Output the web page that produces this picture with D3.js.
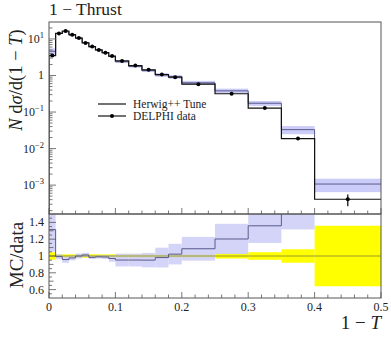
<html>
<head>
<script src="https://cdn.jsdelivr.net/npm/d3@7"></script>
<style>
  body { margin: 0; background: #fff; }
  text { font-family: "Liberation Serif", serif; fill: #222; }
</style>
</head>
<body>
<script>
// bin edges in 1-T
var edges = [0, 0.01, 0.02, 0.03, 0.04, 0.05, 0.06, 0.07, 0.08, 0.09, 0.10,
             0.12, 0.14, 0.16, 0.18, 0.20, 0.25, 0.30, 0.35, 0.40, 0.50];
// DELPHI data and relative errors
var dataVals = [3.5, 14.2, 16.5, 13.1, 10.6, 7.8, 6.2, 5.0, 4.2, 3.4,
                2.5, 1.87, 1.43, 1.06, 0.9, 0.58, 0.316, 0.128, 0.0188, 0.00041];
var dataErr = [0.045, 0.02, 0.02, 0.02, 0.02, 0.02, 0.02, 0.02, 0.02, 0.02,
               0.02, 0.02, 0.02, 0.02, 0.02, 0.02, 0.03, 0.045, 0.08, 0.36];
// Herwig++ tune and relative errors
var mcVals = [4.6, 14.1, 15.8, 12.8, 10.6, 7.9, 6.1, 4.95, 4.15, 3.3,
              2.38, 1.78, 1.36, 1.04, 0.92, 0.63, 0.38, 0.174, 0.033, 0.00107];
var mcErr = [0.2, 0.03, 0.04, 0.03, 0.03, 0.025, 0.02, 0.02, 0.025, 0.04,
             0.08, 0.08, 0.09, 0.12, 0.12, 0.13, 0.15, 0.15, 0.25, 0.4];
var xTicks = [0, 0.1, 0.2, 0.3, 0.4, 0.5];
var yTicks = [10, 1, 0.1, 0.01, 0.001];
var rTicks = [0.6, 0.8, 1, 1.2, 1.4];

var w = 391, h = 341;
var L = 49, R = 381, T = 22, M = 214, B = 298;
var frameCol = "#555", bandCol = "#ccccf8", mcCol = "#5a5a8c";

var svg = d3.select("body").append("svg").attr("width", w).attr("height", h);

var x = d3.scaleLinear().domain([0, 0.5]).range([L, R]);
var y = d3.scaleLog().domain([1.62e-4, 29.1]).range([M, T]);
var yr = d3.scaleLinear().domain([0.5, 1.5]).range([B, M]);

var defs = svg.append("defs");
defs.append("clipPath").attr("id", "cmain").append("rect")
  .attr("x", L).attr("y", T).attr("width", R - L).attr("height", M - T);
defs.append("clipPath").attr("id", "crat").append("rect")
  .attr("x", L).attr("y", M).attr("width", R - L).attr("height", B - M);

var bins = dataVals.map(function(d, i) {
  return {lo: edges[i], hi: edges[i + 1], d: d, de: dataErr[i], m: mcVals[i], me: mcErr[i]};
});

function stepLine(sc, f) {
  var pts = [];
  bins.forEach(function(b) { pts.push([x(b.lo), sc(f(b))]); pts.push([x(b.hi), sc(f(b))]); });
  return d3.line()(pts);
}

// ---- main panel
var gm = svg.append("g").attr("clip-path", "url(#cmain)");
gm.selectAll(".mcband").data(bins).enter().append("rect")
  .attr("x", function(b) { return x(b.lo); })
  .attr("width", function(b) { return x(b.hi) - x(b.lo); })
  .attr("y", function(b) { return y(b.m * (1 + b.me)); })
  .attr("height", function(b) { return y(b.m * (1 - b.me)) - y(b.m * (1 + b.me)); })
  .attr("fill", bandCol);
gm.append("path").attr("d", stepLine(y, function(b) { return b.m; }))
  .attr("fill", "none").attr("stroke", mcCol).attr("stroke-width", 1);
var dpath = [[x(0), y(1.62e-4)]];
bins.forEach(function(b) { dpath.push([x(b.lo), y(b.d)]); dpath.push([x(b.hi), y(b.d)]); });
gm.append("path").attr("d", d3.line()(dpath))
  .attr("fill", "none").attr("stroke", "#111").attr("stroke-width", 1.2);
gm.selectAll(".err").data(bins).enter().append("line")
  .attr("x1", function(b) { return x((b.lo + b.hi) / 2); })
  .attr("x2", function(b) { return x((b.lo + b.hi) / 2); })
  .attr("y1", function(b) { return y(b.d * (1 + b.de)); })
  .attr("y2", function(b) { return y(b.d * (1 - b.de)); })
  .attr("stroke", "#000").attr("stroke-width", 1.2);
gm.selectAll(".pt").data(bins).enter().append("circle")
  .attr("cx", function(b) { return x((b.lo + b.hi) / 2); })
  .attr("cy", function(b) { return y(b.d); })
  .attr("r", 2).attr("fill", "#000");

// ---- ratio panel
var gr = svg.append("g").attr("clip-path", "url(#crat)");
gr.selectAll(".dband").data(bins).enter().append("rect")
  .attr("x", function(b) { return x(b.lo); })
  .attr("width", function(b) { return x(b.hi) - x(b.lo); })
  .attr("y", function(b) { return yr(1 + b.de); })
  .attr("height", function(b) { return yr(1 - b.de) - yr(1 + b.de); })
  .attr("fill", "#ffff00");
gr.selectAll(".rband").data(bins).enter().append("rect")
  .attr("x", function(b) { return x(b.lo); })
  .attr("width", function(b) { return x(b.hi) - x(b.lo); })
  .attr("y", function(b) { return yr(b.m / b.d * (1 + b.me)); })
  .attr("height", function(b) { return yr(b.m / b.d * (1 - b.me)) - yr(b.m / b.d * (1 + b.me)); })
  .attr("fill", bandCol).attr("fill-opacity", 0.85);
gr.append("line").attr("x1", L).attr("x2", R).attr("y1", yr(1)).attr("y2", yr(1))
  .attr("stroke", "#9a9a30").attr("stroke-width", 1);
gr.append("path").attr("d", stepLine(yr, function(b) { return b.m / b.d; }))
  .attr("fill", "none").attr("stroke", mcCol).attr("stroke-width", 1);

// ---- frames
svg.append("rect").attr("x", L).attr("y", T).attr("width", R - L).attr("height", M - T)
  .attr("fill", "none").attr("stroke", frameCol).attr("stroke-width", 1);
svg.append("rect").attr("x", L).attr("y", M).attr("width", R - L).attr("height", B - M)
  .attr("fill", "none").attr("stroke", frameCol).attr("stroke-width", 1);

// ---- ticks
var tk = svg.append("g").attr("stroke", frameCol).attr("stroke-width", 0.8);
d3.range(0, 0.501, 0.02).forEach(function(v) {
  var major = Math.abs(v * 10 - Math.round(v * 10)) < 1e-6;
  var len = major ? 6 : 3.5;
  [M, B].forEach(function(yy) {
    tk.append("line").attr("x1", x(v)).attr("x2", x(v)).attr("y1", yy).attr("y2", yy - len);
  });
});
[-4, -3, -2, -1, 0, 1].forEach(function(e) {
  for (var k = 1; k < 10; k++) {
    var v = k * Math.pow(10, e);
    if (v < 1.62e-4 || v > 29.1) continue;
    tk.append("line").attr("x1", L).attr("x2", L + (k == 1 ? 7 : 3.5))
      .attr("y1", y(v)).attr("y2", y(v));
  }
});
d3.range(0.55, 1.5, 0.05).forEach(function(v) {
  var r = Math.round(v * 100) / 100;
  var major = Math.abs(r * 5 - Math.round(r * 5)) < 1e-6;
  var mid = Math.abs(r * 10 - Math.round(r * 10)) < 1e-6;
  tk.append("line").attr("x1", L).attr("x2", L + (major ? 7 : (mid ? 4.5 : 3)))
    .attr("y1", yr(r)).attr("y2", yr(r));
});

// ---- tick labels
svg.selectAll(".xl").data(xTicks).enter().append("text")
  .attr("x", function(d) { return x(d); }).attr("y", 311)
  .attr("text-anchor", "middle").attr("font-size", 12)
  .text(function(d) { return d === 0 ? "0" : d3.format(".1f")(d); });
var yl = svg.selectAll(".yl").data(yTicks).enter().append("text")
  .attr("x", 44).attr("y", function(d) { return y(d) + 4; })
  .attr("text-anchor", "end").attr("font-size", 12);
yl.each(function(d) {
  var t = d3.select(this);
  if (d === 1) { t.text("1"); return; }
  t.append("tspan").text("10");
  t.append("tspan").attr("dy", -5).attr("font-size", 8.5)
    .text(String(Math.round(Math.log10(d))).replace("-", "\u2212"));
});
svg.selectAll(".rl").data(rTicks).enter().append("text")
  .attr("x", 44).attr("y", function(d) { return yr(d) + 4; })
  .attr("text-anchor", "end").attr("font-size", 12)
  .text(function(d) { return d === 1 ? "1" : d3.format(".1f")(d); });

// ---- titles
svg.append("text").attr("x", L).attr("y", 15).attr("font-size", 17.5)
  .text("1 \u2212 Thrust");
svg.append("text").attr("x", R).attr("y", 329).attr("text-anchor", "end").attr("font-size", 19)
  .html("1 \u2212 <tspan font-style='italic'>T</tspan>");
svg.append("text").attr("transform", "translate(22,80) rotate(-90)")
  .attr("text-anchor", "middle").attr("font-size", 18.5)
  .html("<tspan font-style='italic'>N</tspan> d<tspan font-style='italic'>\u03c3</tspan>/d(1 \u2212 <tspan font-style='italic'>T</tspan>)");
svg.append("text").attr("transform", "translate(23,255) rotate(-90)")
  .attr("text-anchor", "middle").attr("font-size", 19)
  .text("MC/data");

// ---- legend
var lg = svg.append("g");
lg.append("line").attr("x1", 98).attr("x2", 126).attr("y1", 104).attr("y2", 104)
  .attr("stroke", "#111").attr("stroke-width", 1.2);
lg.append("text").attr("x", 133).attr("y", 107.5).attr("font-size", 11.5).text("Herwig++ Tune");
lg.append("line").attr("x1", 98).attr("x2", 126).attr("y1", 116).attr("y2", 116)
  .attr("stroke", "#111").attr("stroke-width", 1.2);
lg.append("circle").attr("cx", 112).attr("cy", 116).attr("r", 2).attr("fill", "#000");
lg.append("text").attr("x", 133).attr("y", 120).attr("font-size", 11.5).text("DELPHI data");
</script>
</body>
</html>
